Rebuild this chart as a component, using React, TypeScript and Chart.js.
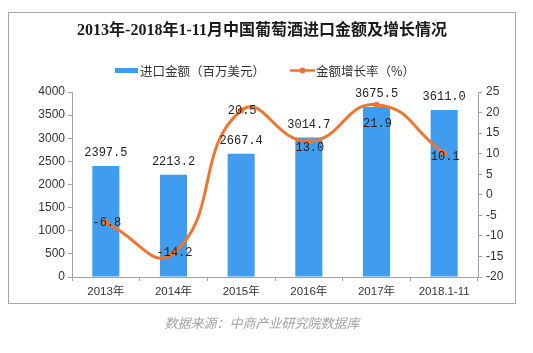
import React, { useEffect, useRef } from "react";
import { Chart, registerables } from "chart.js";

Chart.register(...registerables);

const categories = ["2013年", "2014年", "2015年", "2016年", "2017年", "2018.1-11"];
const importValues = [2397.5, 2213.2, 2667.4, 3014.7, 3675.5, 3611.0];
const growthRates = [-6.8, -14.2, 20.5, 13.0, 21.9, 10.1];
const leftTicks = [0, 4000, 500];
const rightTicks = [-20, 25, 5];

const TITLE = "2013年-2018年1-11月中国葡萄酒进口金额及增长情况";
const LEGEND_BAR = "进口金额（百万美元）";
const LEGEND_LINE = "金额增长率（%）";
const SOURCE = "数据来源：中商产业研究院数据库";

const BLUE = "#3f9cee";
const ORANGE = "#ef7632";
const AXIS = "#a0a0a0";
const TEXT = "#333333";
const lineLabelDy = [0, 0, 0, 6, 19, 4];

const decorPlugin = {
  id: "decor",
  beforeDraw(chart: any) {
    const ctx = chart.ctx;
    ctx.save();
    ctx.fillStyle = "#ffffff";
    ctx.fillRect(0, 0, chart.width, chart.height);
    ctx.strokeStyle = "#a6a6a6";
    ctx.lineWidth = 1;
    ctx.strokeRect(8.5, 12.5, 507, 291);
    // title
    ctx.fillStyle = "#1a1a1a";
    ctx.font = 'bold 16px "Liberation Serif", "Noto Sans CJK SC", serif';
    ctx.textAlign = "center";
    ctx.textBaseline = "middle";
    ctx.fillText(TITLE, 262, 31);
    // legend
    ctx.font = '12.5px "Noto Sans CJK SC", sans-serif';
    ctx.textAlign = "left";
    ctx.fillStyle = BLUE;
    ctx.fillRect(115, 68, 23, 5);
    ctx.fillStyle = TEXT;
    ctx.fillText(LEGEND_BAR, 140, 71);
    ctx.strokeStyle = ORANGE;
    ctx.lineWidth = 2.5;
    ctx.beginPath();
    ctx.moveTo(290, 70.5);
    ctx.lineTo(315, 70.5);
    ctx.stroke();
    ctx.fillStyle = ORANGE;
    ctx.beginPath();
    ctx.arc(302.5, 70.5, 3, 0, Math.PI * 2);
    ctx.fill();
    ctx.fillStyle = TEXT;
    ctx.fillText(LEGEND_LINE, 316, 71);
    // source
    ctx.font = 'italic 13px "Noto Sans CJK SC", sans-serif';
    ctx.fillStyle = "#a0a0a0";
    ctx.textAlign = "center";
    ctx.fillText(SOURCE, 262, 323);
    ctx.restore();
  },
  afterDatasetsDraw(chart: any) {
    const ctx = chart.ctx;
    ctx.save();
    ctx.font = '12px "Liberation Mono", "DejaVu Sans Mono", monospace';
    ctx.fillStyle = "#222222";
    ctx.textAlign = "center";
    ctx.textBaseline = "middle";
    const barMeta = chart.getDatasetMeta(0);
    barMeta.data.forEach((el: any, i: number) => {
      ctx.fillText(importValues[i].toFixed(1), el.x, el.y - 13);
    });
    const lineMeta = chart.getDatasetMeta(1);
    lineMeta.data.forEach((el: any, i: number) => {
      ctx.fillText(growthRates[i].toFixed(1), el.x + 1, el.y + lineLabelDy[i]);
    });
    ctx.restore();
  },
};

export default function App() {
  const ref = useRef<HTMLCanvasElement | null>(null);
  useEffect(() => {
    if (!ref.current) return;
    const tickFont = { family: '"Liberation Sans", "Noto Sans CJK SC", sans-serif', size: 12 };
    const chart = new Chart(ref.current, {
      type: "bar",
      data: {
        labels: categories,
        datasets: [
          {
            type: "bar",
            label: LEGEND_BAR,
            data: importValues,
            backgroundColor: BLUE,
            yAxisID: "y",
            barPercentage: 0.4,
            categoryPercentage: 1,
            order: 2,
          },
          {
            type: "line",
            label: LEGEND_LINE,
            data: growthRates,
            borderColor: ORANGE,
            backgroundColor: ORANGE,
            borderWidth: 3,
            pointRadius: 3,
            pointBackgroundColor: ORANGE,
            pointBorderWidth: 0,
            tension: 0.5,
            yAxisID: "y1",
            order: 1,
          } as any,
        ],
      },
      options: {
        responsive: false,
        animation: false,
        devicePixelRatio: 1,
        layout: { padding: { left: 0, right: 14, top: 92, bottom: 50 } },
        plugins: { legend: { display: false }, title: { display: false }, tooltip: { enabled: false } },
        scales: {
          x: {
            offset: true,
            grid: { display: true, drawOnChartArea: false, drawTicks: true, tickLength: 4, offset: true, color: AXIS },
            border: { display: true, color: AXIS },
            ticks: { color: TEXT, font: { ...tickFont, size: 11.5 }, padding: 4, maxRotation: 0 },
            afterFit: (s: any) => { s.height = 26; },
          },
          y: {
            position: "left",
            min: leftTicks[0],
            max: leftTicks[1],
            ticks: { stepSize: leftTicks[2], color: TEXT, font: tickFont, padding: 3, callback: (v: any) => String(v) },
            grid: { display: true, drawOnChartArea: false, tickLength: 4, color: AXIS },
            border: { display: true, color: AXIS },
            afterFit: (s: any) => { s.width = 72; },
          },
          y1: {
            position: "right",
            min: rightTicks[0],
            max: rightTicks[1],
            ticks: { stepSize: rightTicks[2], color: TEXT, font: tickFont, padding: 4, callback: (v: any) => String(v) },
            grid: { display: true, drawOnChartArea: false, tickLength: 4, color: AXIS },
            border: { display: true, color: AXIS },
            afterFit: (s: any) => { s.width = 41; },
          },
        },
      } as any,
      plugins: [decorPlugin],
    });
    return () => chart.destroy();
  }, []);
  return (
    <div style={{ position: "absolute", left: 0, top: 0, width: 533, height: 353 }}>
      <canvas ref={ref} width={533} height={353} style={{ display: "block", width: 533, height: 353 }} />
    </div>
  );
}
